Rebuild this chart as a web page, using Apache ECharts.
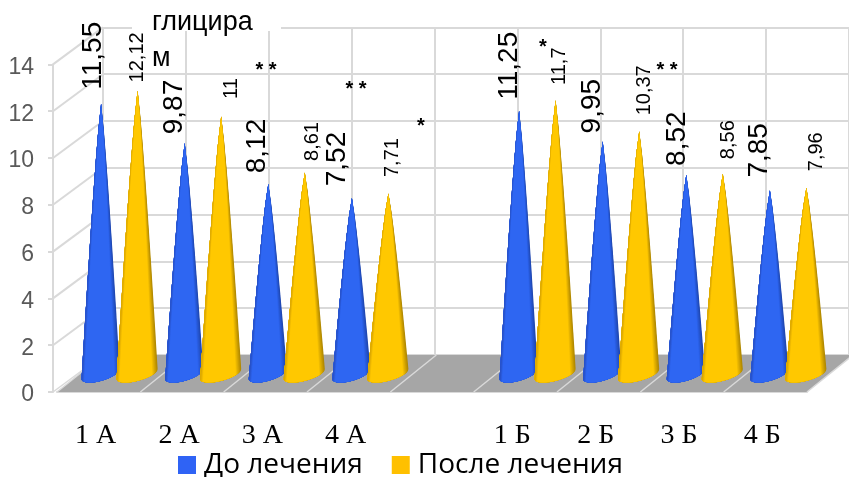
<!DOCTYPE html>
<html><head><meta charset="utf-8">
<script src="https://cdn.jsdelivr.net/npm/echarts@6/dist/echarts.min.js"></script>
<style>html,body{margin:0;padding:0;background:#fff}#c{width:849px;height:477px}</style>
</head><body><div id="c"></div>
<script>
const categories = ['1 А','2 А','3 А','4 А','','1 Б','2 Б','3 Б','4 Б'];
const beforeValues = [11.55,9.87,8.12,7.52,null,11.25,9.95,8.52,7.85];
const afterValues  = [12.12,11,8.61,7.71,null,11.7,10.37,8.56,7.96];
const seriesNames = ['До лечения','После лечения'];
const yTicks = [0,2,4,6,8,10,12,14];

// hand placement of the rotated value labels, relative to each cone's tip
const beforeNudge = [[-8,-48],[-10,-36],[-11,-38],[-15,-39],null,[-10,-45],[-10,-35],[-9,-36],[-11,-40]];
const afterNudge  = [[0,-33],[10,-28],[8,-31],[4,-36],null,[4,-34],[5,-41],[6,-34],[10,-36]];

const LINE = '#D9D9D9';
const DEPTH_X = 46, DEPTH_Y = 37;

function hex(c){return [1,3,5].map(i=>parseInt(c.substr(i,2),16));}
function mix(a,b,t){const A=hex(a),B=hex(b);return 'rgb('+A.map((v,i)=>Math.round(v+(B[i]-v)*t)).join(',')+')';}

function conePoints(tip,cx,cy,a,uL,uR){
  const pts=[tip],t0=Math.acos(uR),t1=Math.acos(uL),n=18,m=10;
  const edge=(u)=>{
    const t=Math.acos(u),ex=cx+a*Math.cos(t),ey=cy-5*Math.cos(t)+7*Math.sin(t),out=[];
    for(let j=1;j<m;j++){const p=j/m,w=Math.pow(p,0.83);
      out.push([tip[0]+(ex-tip[0])*w,tip[1]+(ey-tip[1])*p]);}
    return out;
  };
  pts.push(...edge(uR));
  for(let i=0;i<=n;i++){const t=t0+(t1-t0)*i/n;
    pts.push([cx+a*Math.cos(t),cy-5*Math.cos(t)+7*Math.sin(t)]);}
  pts.push(...edge(uL).reverse());
  return pts;
}
function coneRenderer(shift,halfW,colors,nudge,fontSize){
  return function(params,api){
    const idx=api.value(0),val=api.value(1);
    const top=api.coord([idx,val]),base=api.coord([idx,0]);
    const cx=top[0]+shift,cy=base[1],tip=[cx+0.5,top[1]];
    const kids=[];
    const add=(uL,uR,c)=>kids.push({type:'polygon',shape:{points:conePoints(tip,cx,cy,halfW,uL,uR)},style:{fill:c}});
    add(-1,1,colors.right);
    const n=8;
    for(let i=1;i<=n;i++) add(-1,1-0.26*i/n,mix(colors.right,colors.mid,i/n));
    for(let i=1;i<=5;i++) add(-1,-1+0.16*(1-i/6),mix(colors.mid,colors.left,i/5));
    const nd=nudge[idx];
    kids.push({type:'text',x:tip[0]+nd[0],y:tip[1]+nd[1],rotation:Math.PI/2,
      style:{text:String(val).replace('.',','),fontFamily:'Liberation Sans',fontSize:fontSize,fill:'#000',align:'center',verticalAlign:'middle'}});
    return {type:'group',children:kids};
  };
}
function toData(arr){return arr.map((v,i)=>[i,v]).filter(d=>d[1]!==null);}

function shellRenderer(params,api){
  const g=params.coordSys,x0=g.x,yb=g.y+g.height,kids=[];
  kids.push({type:'polygon',shape:{points:[[x0,yb],[x0+g.width,yb],[x0+g.width+DEPTH_X,yb-DEPTH_Y],[x0+DEPTH_X,yb-DEPTH_Y]]},style:{fill:'#A6A6A6'}});
  const step=g.width/categories.length;
  for(let i=0;i<=categories.length;i++){
    const x=x0+step*i;
    kids.push({type:'line',shape:{x1:x,y1:yb,x2:x+DEPTH_X,y2:yb-DEPTH_Y},style:{stroke:LINE,lineWidth:1.5}});
  }
  yTicks.forEach(v=>{
    const y=api.coord([0,v])[1];
    kids.push({type:'line',shape:{x1:x0-4,y1:y,x2:x0+DEPTH_X,y2:y-DEPTH_Y},style:{stroke:LINE,lineWidth:v===0?1.5:2}});
  });
  return {type:'group',children:kids};
}

const emptyCat=()=>({type:'category',data:categories});
const option={
  animation:false,
  backgroundColor:'#fff',
  title:[
    {text:'глицира',left:152,top:9,padding:0,z:8,
     textStyle:{fontFamily:'Liberation Sans',fontSize:27,fontWeight:'normal',color:'#000'}},
    {text:'м',left:152,top:45,padding:0,z:8,
     textStyle:{fontFamily:'Liberation Sans',fontSize:27,fontWeight:'normal',color:'#000'}}
  ],
  legend:{left:178,top:451,padding:0,itemWidth:18,itemHeight:18,itemGap:29,icon:'rect',selectedMode:false,
    data:seriesNames,textStyle:{fontFamily:'Open Sans',fontSize:28,color:'#000',padding:[0,0,0,3]}},
  grid:[
    {left:103,top:27.4,width:750,height:327.6},
    {left:57,top:64.4,width:750,height:327.6},
    {left:77.3,top:46.4,width:752.4,height:327.6},
    {left:57,top:67.4,width:750,height:327.6}
  ],
  xAxis:[
    Object.assign(emptyCat(),{gridIndex:0,axisLine:{show:false},axisTick:{show:false},axisLabel:{show:false},
      splitLine:{show:true,interval:0,lineStyle:{color:LINE,width:2}}}),
    Object.assign(emptyCat(),{gridIndex:1,axisLine:{show:true,lineStyle:{color:LINE,width:2}},axisTick:{show:false},splitLine:{show:false},
      axisLabel:{interval:0,margin:30,padding:[0,6,0,0],fontFamily:'Liberation Serif',fontSize:28,color:'#000'}}),
    Object.assign(emptyCat(),{gridIndex:2,show:false}),
    Object.assign(emptyCat(),{gridIndex:3,show:false})
  ],
  yAxis:[
    {type:'value',gridIndex:0,min:0,max:14,interval:2,axisLine:{show:false},axisTick:{show:false},axisLabel:{show:false},
      splitLine:{show:true,lineStyle:{color:LINE,width:2}}},
    {type:'value',gridIndex:1,min:0,max:14,interval:2,offset:4,splitLine:{show:false},axisLabel:{show:false},
      axisLine:{show:true,lineStyle:{color:LINE,width:2}},axisTick:{show:true,length:5,lineStyle:{color:LINE,width:2}}},
    {type:'value',gridIndex:2,min:0,max:14,interval:2,show:false},
    {type:'value',gridIndex:3,min:0,max:14,interval:2,offset:4,splitLine:{show:false},axisLine:{show:false},axisTick:{show:false},
      axisLabel:{margin:19,fontFamily:'Liberation Sans',fontSize:23,color:'#595959'}}
  ],
  series:[
    {type:'custom',name:'shell',xAxisIndex:1,yAxisIndex:1,z:1,silent:true,data:[[0,0]],renderItem:shellRenderer,clip:false,encode:{x:0,y:1}},
    {type:'custom',name:seriesNames[0],xAxisIndex:2,yAxisIndex:2,z:3,silent:true,clip:false,
      itemStyle:{color:'#2F63F5'},encode:{x:0,y:1},data:toData(beforeValues),
      renderItem:coneRenderer(-18.5,19,{left:'#2850C4',mid:'#2E66F2',right:'#1F47B0'},beforeNudge,28)},
    {type:'custom',name:seriesNames[1],xAxisIndex:2,yAxisIndex:2,z:4,silent:true,clip:false,
      itemStyle:{color:'#FFC000'},encode:{x:0,y:1},data:toData(afterValues),
      renderItem:coneRenderer(18,20.5,{left:'#D8A500',mid:'#FFC800',right:'#B08800'},afterNudge,20)}
  ],
  graphic:[
    {type:'rect',z:2,shape:{x:132,y:0,width:149,height:31},style:{fill:'#fff'}}
  ].concat([[266,70,'* *'],[356,89,'* *'],[421,126,'*'],[543,47,'*'],[667,70,'* *']].map(s=>({
    type:'text',x:s[0],y:s[1],z:9,
    style:{text:s[2],fontFamily:'Liberation Sans',fontWeight:'bold',fontSize:20,fill:'#000',align:'center',verticalAlign:'middle'}})))
};
echarts.init(document.getElementById('c'),null,{renderer:'canvas'}).setOption(option);
</script></body></html>
